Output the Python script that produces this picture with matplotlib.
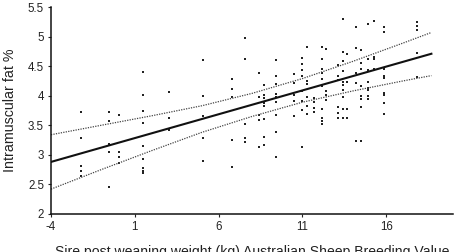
import matplotlib
matplotlib.use("Agg")
import matplotlib.pyplot as plt

# sire post weaning weight ASBV (one entry per sire) and progeny IMF %
sire_pwwt = [-2.2, -0.54, 0.06, 1.49, 3.03, 5.09, 6.82, 7.6, 8.44, 8.7, 9.43,
             10.53, 11.0, 11.3, 11.72, 12.2, 12.44, 13.13, 13.43, 13.67, 14.19,
             14.5, 14.94, 15.28, 15.86, 17.85]
progeny_imf = [
    [3.72, 3.28, 2.81, 2.73, 2.64],
    [3.72, 3.58, 3.18, 3.05, 2.46],
    [3.67, 3.04, 2.97, 2.87],
    [4.40, 4.02, 3.74, 3.54, 3.15, 2.93, 2.78, 2.73, 2.69],
    [4.06, 3.63, 3.42],
    [4.60, 4.00, 3.66, 3.28, 2.89],
    [4.29, 4.11, 3.97, 3.25, 2.80],
    [4.97, 4.62, 3.53, 3.28, 3.21],
    [4.39, 3.98, 3.68, 3.59, 3.13],
    [4.18, 4.02, 3.96, 3.87, 3.82, 3.61, 3.31, 3.17],
    [4.60, 4.33, 4.20, 4.03, 3.97, 3.90, 3.68, 3.39, 2.96],
    [4.36, 4.22, 4.02, 3.91, 3.66],
    [4.64, 4.54, 4.43, 4.33, 4.08, 3.91, 3.76, 3.14],
    [4.83, 4.25, 4.20, 3.97, 3.82, 3.69],
    [3.96, 3.90, 3.80, 3.73],
    [4.83, 4.62, 4.46, 4.38, 4.29, 4.16, 3.77, 3.62, 3.58, 3.52],
    [4.79, 4.08, 4.02, 3.92],
    [4.52, 4.33, 4.26, 3.81, 3.70, 3.63],
    [5.29, 4.74, 4.59, 4.41, 4.24, 4.18, 4.10, 3.98, 3.77, 3.63],
    [4.70, 4.24, 3.77, 3.62],
    [5.17, 4.81, 4.38, 4.22, 3.23],
    [4.77, 4.56, 4.46, 4.16, 3.99, 3.95, 3.81, 3.23],
    [5.21, 4.62, 4.43, 4.24, 4.13, 4.10, 3.99, 3.94],
    [5.27, 4.66, 4.62, 4.46, 4.45],
    [5.17, 5.07, 4.45, 4.33, 4.30, 4.04, 4.01, 3.87, 3.69],
    [5.25, 5.18, 5.12, 4.73, 4.31],
]

# fitted line and confidence band
fit_x = [-4, 18.7]
fit_y = [2.88, 4.71]
band_x = [-4, -1, 2, 5, 8, 11, 14, 17, 18.7]
band_upper = [3.34, 3.50, 3.66, 3.83, 4.04, 4.29, 4.58, 4.89, 5.07]
band_lower = [2.42, 2.75, 3.07, 3.38, 3.65, 3.89, 4.08, 4.25, 4.34]

xticks = [-4, 1, 6, 11, 16]
yticks = [2, 2.5, 3, 3.5, 4, 4.5, 5, 5.5]
ytick_labels = ['2', '2.5', '3', '3.5', '4', '4.5', '5', '5.5']

xs = []
ys = []
for sx, vals in zip(sire_pwwt, progeny_imf):
    for v in vals:
        xs.append(sx)
        ys.append(v)

plt.rcParams['font.family'] = ['Liberation Sans', 'DejaVu Sans']

fig = plt.figure(figsize=(4.55, 2.52), dpi=100)
ax = fig.add_axes([0.112, 0.151, 0.884, 0.821])

ax.plot(xs, ys, 's', color='#222222', markersize=1.9, markeredgewidth=0)
ax.plot(band_x, band_upper, color='#444444', lw=0.9, ls=(0, (1, 1)))
ax.plot(band_x, band_lower, color='#444444', lw=0.9, ls=(0, (1, 1)))
ax.plot(fit_x, fit_y, color='#111111', lw=1.5)

ax.set_xlim(-4, 20)
ax.set_ylim(2, 5.5)
ax.set_xticks(xticks)
ax.set_xticklabels([str(t) for t in xticks])
ax.set_yticks(yticks)
ax.set_yticklabels(ytick_labels)
ax.tick_params(axis='both', direction='out', length=2.5, width=0.8,
               labelsize=8.3, colors='#222222', pad=2.5)

for side in ['top', 'right']:
    ax.spines[side].set_visible(False)
for side in ['left', 'bottom']:
    ax.spines[side].set_linewidth(1.1)
    ax.spines[side].set_color('#111111')

ax.set_ylabel('Intramuscular fat %', fontsize=10.3, color='#222222', labelpad=8)
ax.set_xlabel('Sire post weaning weight (kg) Australian Sheep Breeding Value',
              fontsize=10.1, color='#222222', labelpad=9)

fig.savefig('out.png', dpi=100)
